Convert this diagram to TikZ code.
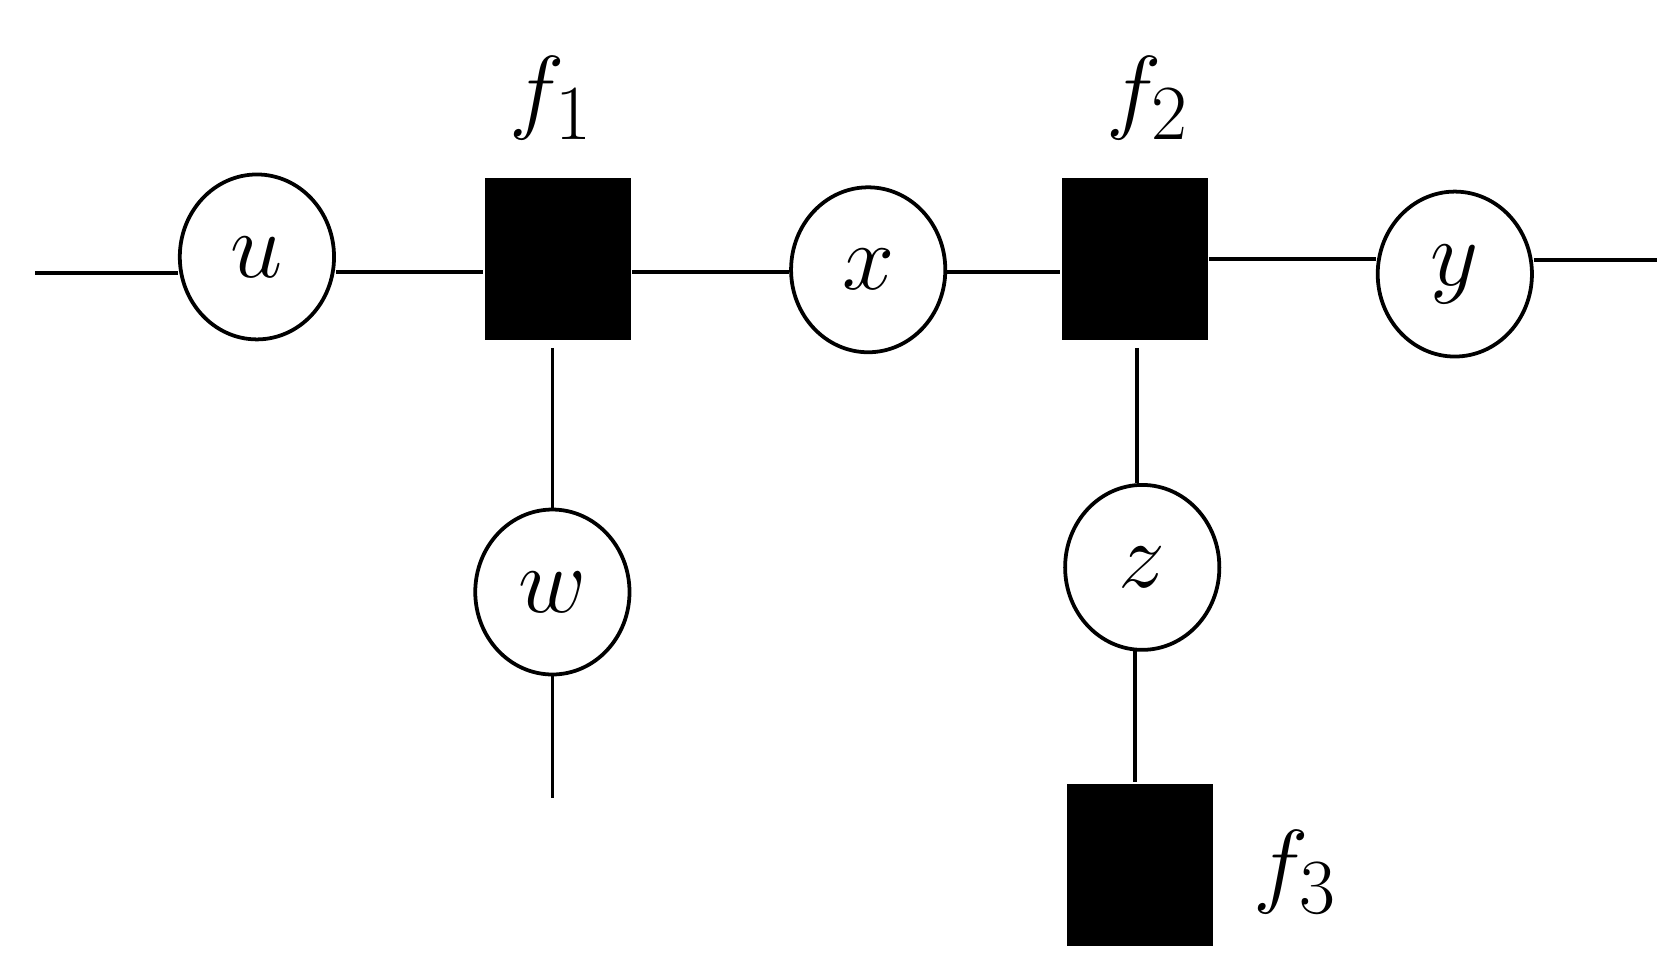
\documentclass[tikz,border=0pt]{standalone}
\usetikzlibrary{shapes.geometric}
\begin{document}
\begin{tikzpicture}[x=0.01cm,y=-0.01cm,line width=1pt,
  var/.style={draw,ellipse,minimum width=1.44cm,minimum height=1.54cm,inner sep=0pt,font=\fontsize{30}{34}\selectfont},
  fac/.style={fill=black,minimum width=1.36cm,minimum height=1.52cm,inner sep=0pt},
  lab/.style={font=\fontsize{30}{34}\selectfont}]
\useasboundingbox (0,0) rectangle (1560,905);
\node[var] (u) at (240,240) {$u$};
\node[fac] (f1) at (521,242) {};
\node[var] (x) at (811,252) {$x$};
\node[fac] (f2) at (1060,242) {};
\node[var] (y) at (1359,256) {$y$};
\node[var] (w) at (516,553) {$w$};
\node[var] (z) at (1067,530) {$z$};
\node[fac] (f3) at (1065,808) {};
\node[lab] (l1) at (515,92) {$f_{1}$};
\node[lab] (l2) at (1072,92) {$f_{2}$};
\node[lab] (l3) at (1210,815) {$f_{3}$};
\coordinate (a) at (33,255);
\coordinate (b) at (1548,243);
\coordinate (c) at (516,325);
\coordinate (d) at (516,745);
\coordinate (e) at (1062,325);
\draw (a) -- (u.west |- a);
\draw (u.east |- 0,254) -- (f1.west |- 0,254);
\draw (f1.east |- 0,254) -- (x.west |- 0,254);
\draw (x.east |- 0,254) -- (f2.west |- 0,254);
\draw (f2.east |- 0,242) -- (y.west |- 0,242);
\draw (y.east |- b) -- (b);
\draw (c) -- (w.north);
\draw (w.south) -- (d);
\draw (e) -- (e |- z.north);
\draw (1060,608) -- (f3.north -| 1060,0);
\end{tikzpicture}
\end{document}
